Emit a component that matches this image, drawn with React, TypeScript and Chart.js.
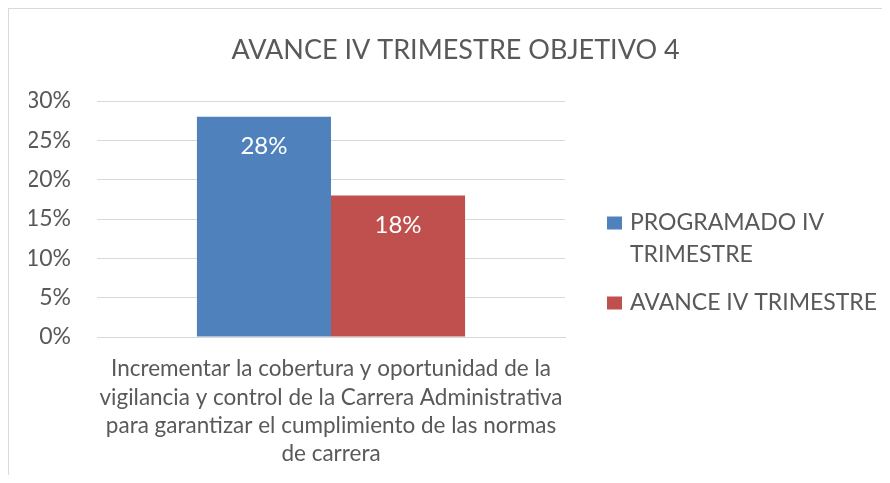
import React, { useEffect, useRef } from "react";
import { Chart, registerables } from "chart.js";

Chart.register(...registerables);

const title = "AVANCE IV TRIMESTRE OBJETIVO 4";
const categories: string[][] = [[
  "Incrementar la cobertura y oportunidad de la",
  "vigilancia y control de la Carrera Administrativa",
  "para garantizar el cumplimiento de las normas",
  "de carrera",
]];
const seriesNames: string[][] = [["PROGRAMADO IV", "TRIMESTRE"], ["AVANCE IV TRIMESTRE"]];
const programado = [0.28];
const avance = [0.18];
const seriesColors = ["#4F81BD", "#C0504D"];
const yMax = 0.3;
const yStep = 0.05;

const TEXT = "#595959";
const FONT = "Lato, 'Open Sans', sans-serif";

const pct = (v: number) => Math.round(v * 100) + "%";

const dataLabels = {
  id: "dataLabels",
  afterDatasetsDraw(chart: any) {
    const ctx = chart.ctx;
    ctx.save();
    ctx.fillStyle = "#FFFFFF";
    ctx.font = `24px ${FONT}`;
    ctx.textAlign = "center";
    ctx.textBaseline = "middle";
    chart.data.datasets.forEach((ds: any, i: number) => {
      const meta = chart.getDatasetMeta(i);
      meta.data.forEach((bar: any, j: number) => {
        ctx.fillText(pct(ds.data[j]), bar.x, bar.y + 30);
      });
    });
    ctx.restore();
  },
};

const sideLegend = {
  id: "sideLegend",
  afterDraw(chart: any) {
    const { ctx, chartArea } = chart;
    const lineH = 32;
    const boxX = chartArea.right + 42;
    const textX = boxX + 23;
    let y = chartArea.top + 122;
    ctx.save();
    ctx.font = `23px ${FONT}`;
    ctx.textAlign = "left";
    ctx.textBaseline = "middle";
    chart.data.datasets.forEach((ds: any) => {
      const lines: string[] = Array.isArray(ds.label) ? ds.label : [ds.label];
      ctx.fillStyle = ds.backgroundColor;
      ctx.fillRect(boxX, y - 6.5, 15, 13);
      ctx.fillStyle = TEXT;
      lines.forEach((ln, k) => ctx.fillText(ln, textX, y + k * lineH));
      y += lines.length * lineH + 16;
    });
    ctx.restore();
  },
};

export default function App() {
  const ref = useRef<HTMLCanvasElement>(null);
  useEffect(() => {
    if (!ref.current) return;
    const chart = new Chart(ref.current, {
      type: "bar",
      data: {
        labels: categories as any,
        datasets: [
          { label: seriesNames[0] as any, data: programado, backgroundColor: seriesColors[0] },
          { label: seriesNames[1] as any, data: avance, backgroundColor: seriesColors[1] },
        ],
      },
      options: {
        animation: false,
        responsive: false,
        devicePixelRatio: 1,
        layout: { padding: { left: 20, right: 0, top: 0, bottom: 0 } },
        datasets: { bar: { categoryPercentage: 0.573, barPercentage: 1 } },
        plugins: {
          tooltip: { enabled: false },
          legend: { display: false },
          title: {
            display: true,
            text: title,
            color: TEXT,
            font: { family: FONT, size: 27, weight: "normal", lineHeight: 1.2 },
            padding: { top: 24.6, bottom: 35 },
          },
        },
        scales: {
          x: {
            afterFit: (s: any) => { s.height = 138; },
            grid: { display: false },
            border: { display: true, color: "#D9D9D9", width: 1 },
            ticks: {
              color: TEXT,
              padding: 10,
              maxRotation: 0,
              autoSkip: false,
              font: { family: FONT, size: 22.5, lineHeight: 1.26 },
            },
          },
          y: {
            min: 0,
            max: yMax,
            afterFit: (s: any) => { s.width = 68; },
            grid: { color: "#D9D9D9", lineWidth: 1, drawTicks: false },
            border: { display: false },
            ticks: {
              stepSize: yStep,
              padding: 26,
              color: TEXT,
              font: { family: FONT, size: 23 },
              callback: (v: any) => pct(Number(v)),
            },
          },
          legendSpace: {
            type: "linear",
            position: "right",
            display: true,
            afterFit: (s: any) => { s.width = 317; },
            grid: { display: false },
            border: { display: false },
            ticks: { display: false },
          },
        },
      } as any,
      plugins: [dataLabels, sideLegend],
    });
    return () => chart.destroy();
  }, []);
  return (
    <div style={{ width: 874, height: 467, overflow: "hidden" }}>
      <div style={{ width: 900, height: 500, border: "1px solid #D9D9D9", boxSizing: "border-box" }}>
        <canvas ref={ref} width={873} height={466} style={{ display: "block" }} />
      </div>
    </div>
  );
}
